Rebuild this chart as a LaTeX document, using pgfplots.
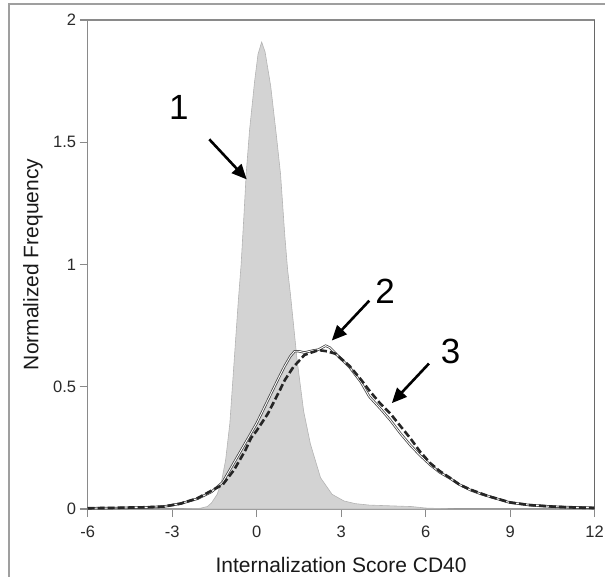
\documentclass[border=0pt]{standalone}
\usepackage{pgfplots}
\pgfplotsset{compat=1.18}
\usepackage{fontspec}
\setmainfont{Liberation Sans}
\usetikzlibrary{arrows.meta}
\definecolor{fillgray}{HTML}{D3D3D3}
\definecolor{edgegray}{HTML}{B4B4B4}
\definecolor{axgray}{HTML}{8A8A8A}
\definecolor{axdark}{HTML}{555555}
\definecolor{txt}{HTML}{2A2A2A}
\begin{document}
\begin{tikzpicture}[x=1pt,y=1pt]
\useasboundingbox (0,0) rectangle (605,576);
\draw[color=gray!75, line width=1.3pt] (9,-5) -- (9,572) -- (615,572);
\begin{axis}[
  at={(87.6pt,67pt)}, anchor=south west,
  scale only axis, width=507pt, height=489pt,
  xmin=-6, xmax=12, ymin=0, ymax=2,
  xtick={-6,-3,0,3,6,9,12},
  ytick={0,0.5,1,1.5,2},
  tick align=outside, xtick pos=bottom, ytick pos=left,
  major tick length=8pt,
  every tick/.style={color=axgray, line width=1.2pt},
  axis line style={color=axgray, line width=1.3pt},
  /pgf/number format/assume math mode=true,
  ticklabel style={font=\fontsize{16.5}{18}\selectfont, text=txt},
  xticklabel style={yshift=-5pt},
  xlabel={Internalization Score CD40},
  ylabel={Normalized Frequency},
  label style={font=\fontsize{21}{25}\selectfont, text=black!90},
  xlabel style={at={(axis description cs:0.5,0)}, anchor=base, yshift=-63pt},
  ylabel style={at={(axis description cs:0,0.5)}, anchor=center, rotate=0, yshift=54.6pt},
  clip=true,
]
% series 1: filled grey histogram
\addplot[fill=fillgray, draw=edgegray, line width=0.6pt] coordinates {
(-6,0) (-3,0) (-2.5,0.001) (-2.0,0.003) (-1.75,0.01) (-1.6,0.025) (-1.4,0.06)
(-1.25,0.11) (-1.1,0.2) (-0.95,0.35) (-0.8,0.6) (-0.65,0.85) (-0.55,1.0)
(-0.45,1.2) (-0.37,1.37) (-0.25,1.55) (-0.07,1.75) (0.05,1.86) (0.18,1.91)
(0.3,1.87) (0.5,1.73) (0.7,1.53) (0.85,1.37) (1.0,1.12) (1.1,0.98) (1.2,0.88)
(1.44,0.607) (1.67,0.40) (1.91,0.266) (2.27,0.128) (2.68,0.06) (3.1,0.033)
(3.5,0.022) (4.0,0.016) (5.0,0.012) (5.5,0.01) (6.0,0.004) (7,0) (12,0)
} \closedcycle;
% series 2: solid (double) line
\addplot[color=black!75, line width=0.75pt, double=white, double distance=0.9pt] coordinates {
(-6,0.003) (-5,0.004) (-4,0.006) (-3.3,0.01) (-2.7,0.022) (-2.1,0.042)
(-1.6,0.07) (-1.2,0.11) (-0.8,0.19) (-0.4,0.27) (0,0.35) (0.4,0.445)
(0.8,0.54) (1.0,0.585) (1.2,0.625) (1.35,0.645) (1.5,0.645) (1.7,0.64)
(2.0,0.648) (2.2,0.652) (2.45,0.668) (2.6,0.66) (2.9,0.625) (3.3,0.58)
(3.7,0.52) (4.0,0.46) (4.4,0.41) (4.75,0.363) (5.1,0.31) (5.46,0.261)
(5.8,0.22) (6.17,0.18) (6.5,0.15) (6.87,0.125) (7.2,0.10) (7.58,0.078)
(8.0,0.06) (8.3,0.05) (9.0,0.026) (9.7,0.016) (10.5,0.01) (11.0,0.008) (12,0.005)
};
% series 3: dashed line
\addplot[color=black!85, line width=2.6pt, dash pattern=on 7pt off 3pt] coordinates {
(-6,0.003) (-5,0.005) (-4,0.007) (-3.3,0.01) (-2.7,0.022) (-2.1,0.044)
(-1.6,0.075) (-1.2,0.10) (-0.8,0.16) (-0.4,0.24) (-0.2,0.29) (0,0.32)
(0.4,0.39) (0.8,0.48) (1.0,0.527) (1.3,0.58) (1.7,0.63) (2.2,0.65)
(2.5,0.645) (2.8,0.635) (3.3,0.585) (3.7,0.53) (4.04,0.479) (4.4,0.43)
(4.75,0.39) (5.1,0.34) (5.46,0.289) (5.8,0.235) (6.17,0.187) (6.5,0.155)
(6.87,0.127) (7.2,0.10) (7.58,0.08) (8.0,0.062) (8.3,0.05) (9.0,0.027)
(9.7,0.016) (10.5,0.01) (11,0.007) (12,0.004)
};
\draw[color=axdark, line width=2pt] (rel axis cs:1,0) -- (rel axis cs:1,1);
% annotations
\node[font=\fontsize{35}{40}\selectfont] at (axis cs:-2.76,1.644) {1};
\node[font=\fontsize{35}{40}\selectfont] at (axis cs:4.56,0.889) {2};
\node[font=\fontsize{35}{40}\selectfont] at (axis cs:6.89,0.643) {3};
\draw[line width=2.6pt, -{Triangle[length=15pt,width=13pt]}] (axis cs:-1.68,1.512) -- (axis cs:-0.35,1.348);
\draw[line width=2.6pt, -{Triangle[length=15pt,width=13pt]}] (axis cs:4.0,0.852) -- (axis cs:2.67,0.689);
\draw[line width=2.6pt, -{Triangle[length=15pt,width=13pt]}] (axis cs:6.12,0.595) -- (axis cs:4.8,0.433);
\end{axis}
\end{tikzpicture}
\end{document}
